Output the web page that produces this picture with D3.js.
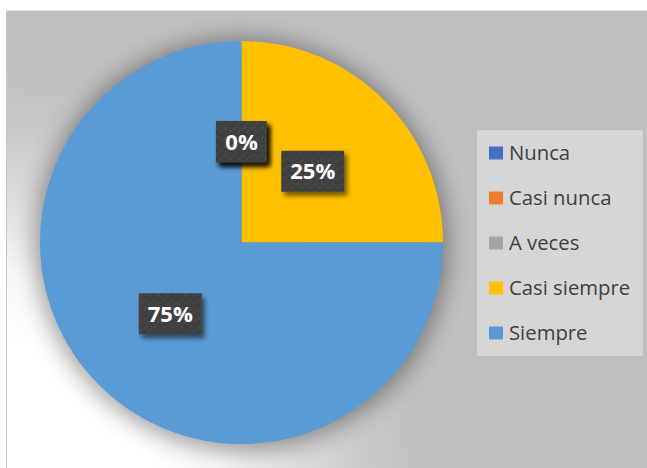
<!DOCTYPE html>
<html>
<head>
<meta charset="utf-8">
<script src="https://cdn.jsdelivr.net/npm/d3@7"></script>
<style>
  html, body { margin: 0; padding: 0; background: #ffffff; }
  svg { display: block; }
</style>
</head>
<body>
<svg id="chart" width="647" height="468"></svg>
<script>
// Survey answers and their share of responses (percent)
const categories = ["Nunca", "Casi nunca", "A veces", "Casi siempre", "Siempre"];
const shares = [0, 0, 0, 25, 75];
const sliceColors = ["#4472C4", "#ED7D31", "#A5A5A5", "#FFC000", "#5B9BD5"];

const W = 647, H = 468;
const svg = d3.select("#chart");
const defs = svg.append("defs");

// Light glow in the lower-left corner of the chart area
const glow = defs.append("radialGradient")
  .attr("id", "cornerGlow")
  .attr("gradientUnits", "userSpaceOnUse")
  .attr("cx", -20).attr("cy", 520).attr("r", 450);
[[0, 1], [0.4, 1], [0.55, 0.88], [0.72, 0.45], [0.9, 0.12], [1, 0]].forEach(([o, a]) => {
  glow.append("stop").attr("offset", o).attr("stop-color", "#ffffff").attr("stop-opacity", a);
});

// Soft shadow around the pie
defs.append("filter").attr("id", "pieShadow")
  .attr("x", "-30%").attr("y", "-30%").attr("width", "160%").attr("height", "160%")
  .append("feGaussianBlur").attr("stdDeviation", 12);

// Drop shadow under the value labels
const lblShadow = defs.append("filter").attr("id", "labelShadow")
  .attr("x", "-30%").attr("y", "-30%").attr("width", "170%").attr("height", "180%");
lblShadow.append("feDropShadow")
  .attr("dx", 3).attr("dy", 4).attr("stdDeviation", 2.5)
  .attr("flood-color", "#000").attr("flood-opacity", 0.55);

// Faint texture inside the label boxes
const tex = defs.append("pattern").attr("id", "labelTexture")
  .attr("patternUnits", "userSpaceOnUse").attr("width", 9).attr("height", 9);
tex.append("rect").attr("width", 9).attr("height", 9).attr("fill", "#404040");
tex.append("path").attr("d", "M1,6 L4,3 M5,9 L8,6")
  .attr("stroke", "#ffffff").attr("stroke-opacity", 0.07).attr("stroke-width", 1.2);

// Chart area
const area = { x: 6.5, y: 11, w: W - 6.5, h: H - 11 };
svg.append("rect")
  .attr("x", area.x).attr("y", area.y).attr("width", area.w + 2).attr("height", area.h + 2)
  .attr("fill", "#bfbfbf").attr("stroke", "#c4c4c4").attr("stroke-width", 1);
svg.append("rect")
  .attr("x", area.x + 0.5).attr("y", area.y).attr("width", area.w).attr("height", area.h)
  .attr("fill", "url(#cornerGlow)");

// Pie geometry
const cx = 241.5, cy = 242.5, radius = 201.5;
const g = svg.append("g").attr("transform", `translate(${cx},${cy})`);

g.append("circle").attr("r", radius + 4).attr("cx", 0).attr("cy", 2)
  .attr("fill", "#000").attr("opacity", 0.38).attr("filter", "url(#pieShadow)");

const data = categories.map((c, i) => ({ name: c, value: shares[i], color: sliceColors[i] }));
const pie = d3.pie().value(d => d.value).sort(null);
const arc = d3.arc().innerRadius(0).outerRadius(radius);
const arcs = pie(data);

g.selectAll("path.slice").data(arcs).join("path")
  .attr("class", "slice")
  .attr("d", arc)
  .attr("fill", d => d.data.color);

// Value labels at half radius
const labelArc = d3.arc().innerRadius(0).outerRadius(radius);
const fmt = d => d3.format(".0%")(d / 100);
const labels = g.selectAll("g.lbl").data(arcs).join("g")
  .attr("class", "lbl")
  .attr("transform", d => `translate(${labelArc.centroid(d)})`);

labels.each(function (d) {
  const sel = d3.select(this);
  const box = sel.append("rect");
  const txt = sel.append("text")
    .attr("text-anchor", "middle")
    .attr("dy", "0.36em")
    .attr("font-family", "'Open Sans', sans-serif")
    .attr("font-weight", "bold")
    .attr("font-size", 22)
    .attr("fill", "#ffffff")
    .text(fmt(d.data.value));
  const tw = txt.node().getComputedTextLength();
  const bw = tw + 18, bh = 41;
  box.attr("x", -bw / 2).attr("y", -bh / 2).attr("width", bw).attr("height", bh)
    .attr("fill", "url(#labelTexture)")
    .attr("filter", "url(#labelShadow)");
});

// Legend
const leg = { x: 477, y: 130, w: 166, h: 226 };
svg.append("rect")
  .attr("x", leg.x).attr("y", leg.y).attr("width", leg.w).attr("height", leg.h)
  .attr("fill", "#d6d6d6");

const legY = d3.scalePoint().domain(categories).range([153, 333]);
const items = svg.selectAll("g.leg").data(data).join("g")
  .attr("class", "leg")
  .attr("transform", d => `translate(${leg.x + 12},${legY(d.name)})`);
items.append("rect")
  .attr("x", 0).attr("y", -6.5).attr("width", 14).attr("height", 13)
  .attr("fill", d => d.color);
items.append("text")
  .attr("x", 20).attr("dy", "0.36em")
  .attr("font-family", "'Open Sans', sans-serif")
  .attr("font-size", 20.3)
  .attr("fill", "#404040")
  .text(d => d.name);
</script>
</body>
</html>
